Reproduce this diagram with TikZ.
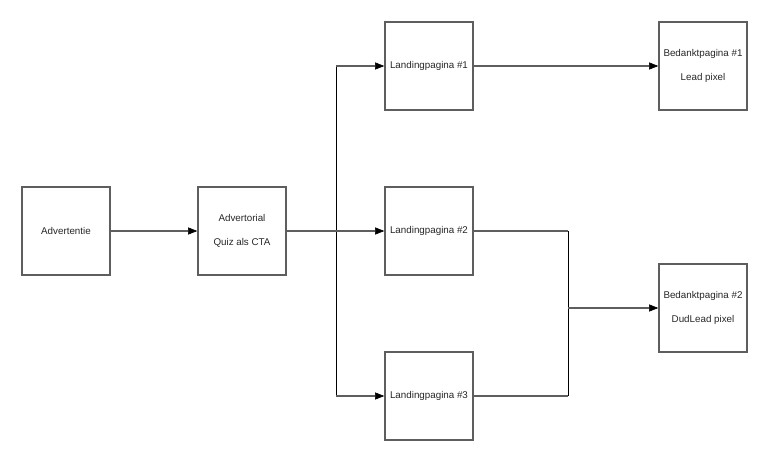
\documentclass[tikz,border=0pt]{standalone}
\usepackage{fontspec}
\setmainfont{Liberation Sans}
\usetikzlibrary{arrows.meta}
\definecolor{edge}{HTML}{5E5E5E}
\begin{document}
\begin{tikzpicture}[x=1pt,y=-1pt,
  box/.style={draw=edge,line width=1.6pt,minimum width=88pt,minimum height=88pt,inner sep=0pt,
    font=\fontsize{9.8}{24}\selectfont,align=center,text=black!85},
  conn/.style={draw=edge,line width=1.6pt},
  vconn/.style={draw=black,line width=0.9pt},
  arr/.style={-{Triangle[length=9pt,width=7pt,color=black,line width=0.5pt]}}]
\useasboundingbox (0,0) rectangle (770,462);
\node[box] (adv) at (66,231) {Advertentie};
\node[box] (ador) at (242,231) {Advertorial\\Quiz als CTA};
\node[box] (lp1) at (429,66) {Landingpagina \#1};
\node[box] (lp2) at (429,231) {Landingpagina \#2};
\node[box] (lp3) at (429,396) {Landingpagina \#3};
\node[box] (bp1) at (703,66) {Bedanktpagina \#1\\Lead pixel};
\node[box] (bp2) at (703,308) {Bedanktpagina \#2\\DudLead pixel};
\coordinate (j) at (336,231);
\coordinate (jt) at (336,66);
\coordinate (jb) at (336,396);
\coordinate (k2) at (568,231);
\coordinate (k3) at (568,396);
\coordinate (km) at (568,308);
\draw[conn,arr] (adv) -- (ador);
\draw[conn] (ador) -- (j);
\draw[vconn] (jt) -- (jb);
\draw[conn,arr] (jt) -- (lp1);
\draw[conn,arr] (j) -- (lp2);
\draw[conn,arr] (jb) -- (lp3);
\draw[conn,arr] (lp1) -- (bp1);
\draw[conn] (lp2) -- (k2);
\draw[conn] (lp3) -- (k3);
\draw[vconn] (k2) -- (k3);
\draw[conn,arr] (km) -- (bp2);
\end{tikzpicture}
\end{document}
